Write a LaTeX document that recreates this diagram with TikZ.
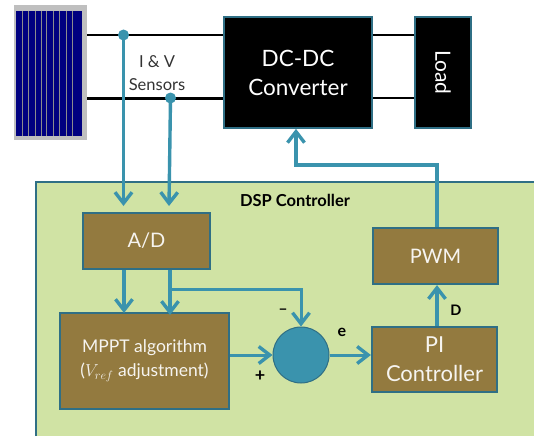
\documentclass[tikz,border=0pt]{standalone}
\usepackage{fontspec}
\setmainfont{Lato}
\usetikzlibrary{arrows.meta}
\definecolor{tealb}{HTML}{3A93AD}
\definecolor{edgeb}{HTML}{2F6F85}
\definecolor{brownb}{HTML}{937A3F}
\definecolor{greenb}{HTML}{D0E3A4}
\definecolor{panelb}{HTML}{000080}
\tikzset{
 px/.style={x=1pt,y=-1pt},
 blockbox/.style={draw=edgeb,line width=2.2pt,fill=brownb,text=white!92!brownb,align=center,font=\fontsize{20}{28}\selectfont,inner sep=0pt},
 darkbox/.style={draw=edgeb,line width=1.8pt,fill=black,text=white,align=center,font=\fontsize{22.5}{29}\selectfont,inner sep=0pt},
 sig/.style={draw=tealb,line width=3.4pt,-{Straight Barb[length=11pt,width=17pt,line width=3.4pt]}},
 sigthin/.style={draw=tealb,line width=3pt,-{Straight Barb[length=11pt,width=17pt,line width=3.4pt]}},
 wire/.style={draw=black,line width=2.4pt},
 lab/.style={font=\bfseries\fontsize{14.5}{16}\selectfont,text=black,inner sep=0pt},
}
\begin{document}
\begin{tikzpicture}[px]
\useasboundingbox (0,0) rectangle (534,436);
% solar panel
\fill[black!25] (14,5) rectangle (87,140);
\fill[panelb] (16,11) rectangle (82,136);
\foreach \x in {22,28,34.5,41,46,53,59,66,72}{\fill[black!45!white] (\x,11) rectangle (\x+1.4,136);}
\coordinate (panelT) at (87,35);
\coordinate (panelB) at (87,98);
% dark boxes
\node[darkbox,minimum width=148pt,minimum height=111pt] (conv) at (298,72.5) {DC-DC\\Converter};
\node[darkbox,minimum width=56pt,minimum height=111pt] (load) at (443,72.5) {\rotatebox{-90}{\fontsize{21}{24}\selectfont Load}};
% wires
\draw[wire] (panelT) -- (panelT -| conv.west);
\draw[wire,line width=3pt] (panelB) -- (panelB -| conv.west);
\draw[wire] (conv.east |- panelT) -- (load.west |- panelT);
\draw[wire] (conv.east |- panelB) -- (load.west |- panelB);
% controller
\path[fill=greenb] (36,182) rectangle (534,436);
\draw[edgeb,line width=1.8pt] (36,436) -- (36,182) -- (534,182);
\node[lab,font=\bfseries\fontsize{16.5}{18}\selectfont] (dsp) at (295,200) {DSP Controller};
% blocks
\node[blockbox,minimum width=127pt,minimum height=56pt] (ad) at (146.5,241) {A/D};
\node[blockbox,minimum width=169pt,minimum height=96pt,font=\fontsize{17.5}{24}\selectfont] (mppt) at (144.5,361) {MPPT algorithm\\($V_{ref}$ adjustment)};
\node[blockbox,minimum width=125pt,minimum height=65pt,font=\fontsize{22}{29}\selectfont] (pi) at (434.5,359.5) {PI\\Controller};
\node[blockbox,minimum width=125pt,minimum height=56pt] (pwm) at (435.5,256) {PWM};
\node[circle,draw=edgeb,line width=1pt,fill=tealb,minimum size=56pt,inner sep=0pt] (sum) at (301,355) {};
% sensors
\node[font=\fontsize{16.5}{23}\selectfont,align=center,text=black!80,inner sep=0pt] (sens) at (157,73) {I \& V\\Sensors};
\coordinate (tapA) at (123.5,35);
\coordinate (tapB) at (170.5,98);
\fill[tealb] (tapA) circle (5.5pt);
\fill[tealb] (tapB) circle (5.5pt);
\coordinate (adA) at (123.5,206);
\coordinate (adB) at (169,206);
\draw[sig] (tapA) -- (adA);
\draw[sig] (tapB) -- (adB);
% internal
\coordinate (ma) at (124,313);
\coordinate (mb) at (170,315);
\coordinate (branch) at (170,289);
\draw[sig] (ad.south -| ma) -- (ma);
\draw[sig] (ad.south -| mb) -- (mb);
\draw[sigthin] (branch) -- (branch -| sum.north) -- (sum.north);
\draw[sigthin] (mppt.east |- sum.west) -- (sum.west);
\draw[sigthin] (sum.east) -- (pi.west |- sum.east);
\coordinate (up) at (437,327);
\draw[sig] (pi.north -| up) -- (pwm.south -| up);
\coordinate (turnA) at (437,165);
\coordinate (turnB) at (296,165);
\draw[sig] (pwm.north -| up) -- (turnA) -- (turnB) -- (turnB |- conv.south);
% labels
\node[lab] (dl) at (456,310) {D};
\node[lab,font=\bfseries\fontsize{16}{18}\selectfont] (el) at (342,332) {e};
\node[lab,font=\bfseries\fontsize{18}{18}\selectfont] (pl) at (260,376) {+};
\node[lab] (ml) at (283,312) {−};
\end{tikzpicture}
\end{document}
